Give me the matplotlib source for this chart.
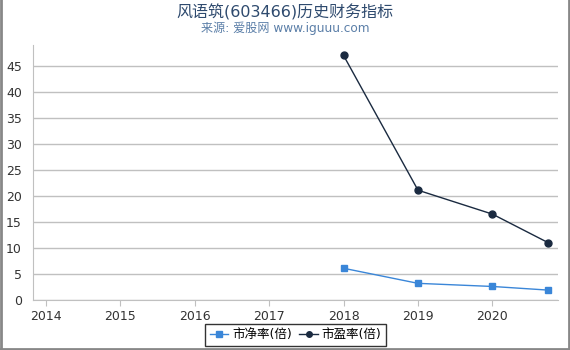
import matplotlib
matplotlib.use("Agg")
import matplotlib.pyplot as plt
from matplotlib.lines import Line2D

plt.rcParams['font.family'] = ['DejaVu Sans', 'Noto Sans CJK SC']

# data
years_pb = [2018, 2019, 2020, 2020.75]
pb = [6.1, 3.2, 2.6, 1.9]
years_pe = [2018, 2019, 2020, 2020.75]
pe = [47.0, 21.1, 16.5, 11.0]
xticks = [2014, 2015, 2016, 2017, 2018, 2019, 2020]
yticks = [0, 5, 10, 15, 20, 25, 30, 35, 40, 45]

fig = plt.figure(figsize=(5.7, 3.5), dpi=100)
ax = fig.add_axes([33/570, 50/350, 525/570, 255/350])

ax.plot(years_pb, pb, color='#3a86d8', marker='s', markersize=5, lw=1, label='市净率(倍)')
ax.plot(years_pe, pe, color='#1a2a40', marker='o', markersize=5, lw=1, label='市盈率(倍)')

ax.set_xlim(2013.83, 2020.88)
ax.set_ylim(0, 49)
ax.set_xticks(xticks)
ax.set_yticks(yticks)
ax.grid(axis='y', color='#c0c0c0', lw=1)
ax.set_axisbelow(True)
for s in ['top', 'right']:
    ax.spines[s].set_visible(False)
for s in ['left', 'bottom']:
    ax.spines[s].set_color('#c0c0c0')
ax.tick_params(axis='both', colors='#c0c0c0', labelcolor='#333333', labelsize=9, length=4)
ax.tick_params(axis='y', length=0, pad=8)

fig.text(0.5, 0.965, '风语筑(603466)历史财务指标', ha='center', va='center', fontsize=11.5, color='#2e4a6e')
fig.text(0.5, 0.918, '来源: 爱股网 www.iguuu.com', ha='center', va='center', fontsize=8.7, color='#5b7fa8')

leg = ax.legend(loc='upper center', bbox_to_anchor=(0.5, -0.07), ncol=2, fontsize=9,
                frameon=True, fancybox=False, handlelength=1.5, columnspacing=0.6,
                handletextpad=0.3, borderpad=0.35, markerscale=0.8)
leg.get_frame().set_edgecolor('black')

# outer gray frame on left, right and bottom
for xs, ys in [([0.001, 0.001], [0, 1]), ([0.999, 0.999], [0, 1]), ([0, 1], [0.003, 0.003])]:
    fig.add_artist(Line2D(xs, ys, transform=fig.transFigure, color='#888888', lw=2))

fig.savefig('out.png', dpi=100)
